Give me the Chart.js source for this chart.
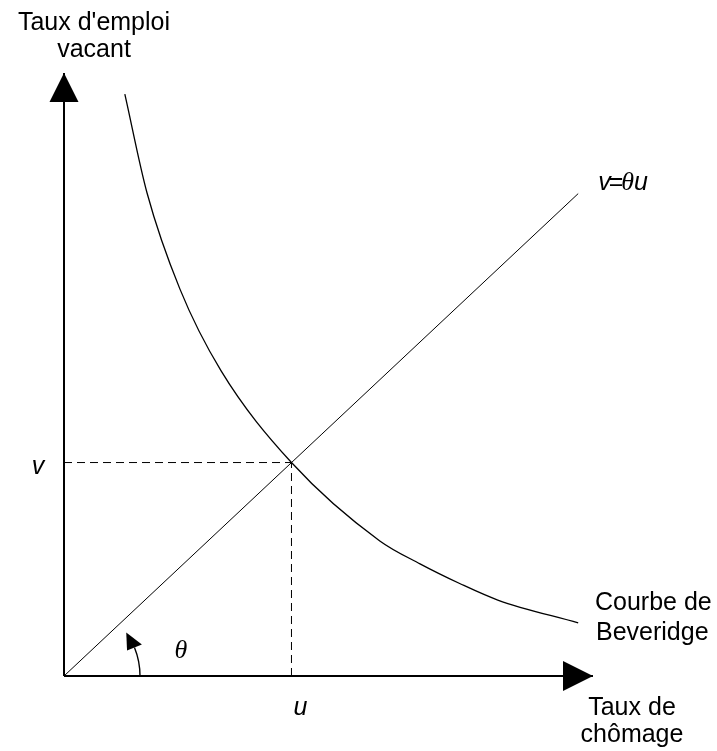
<!DOCTYPE html>
<html><head><meta charset="utf-8">
<script src="https://cdn.jsdelivr.net/npm/chart.js@4.4.0/dist/chart.umd.min.js"></script>
<style>html,body{margin:0;padding:0;background:#fff;} #wrap{width:717px;height:751px;}</style>
</head><body><div id="wrap"><canvas id="c" width="717" height="751"></canvas></div>
<script>
// ---- data (abstract units, axes run 0..10) ----
const axisMax = 10;
const curveU = [1.15, 1.57, 2.19, 2.97, 4.30, 5.97, 6.73, 7.49, 8.20, 9.72];
const curveV = [9.65, 8.01, 6.42, 5.06, 3.54, 2.24, 1.86, 1.53, 1.26, 0.88];
const lineU = [0, 9.72];
const lineV = [0, 8.00];
const uStar = 4.30;
const vStar = 3.54;
const yAxisTitle = ["Taux d'emploi", "vacant"];
const xAxisTitle = ["Taux de", "chômage"];
const curveLabel = ["Courbe de", "Beveridge"];
const uLabel = "u";
const vLabel = "v";
const thetaLabel = "θ";

const pts = (xs, ys) => xs.map((x, i) => ({x: x, y: ys[i]}));
const SANS = '"Liberation Sans", Arial, sans-serif';
const SERIF = '"Liberation Serif", "Times New Roman", serif';

const ds = (data, extra) => Object.assign({
  data: data, showLine: true, borderColor: '#000', borderWidth: 1,
  pointRadius: 0, pointHoverRadius: 0, clip: false, fill: false
}, extra);

const deco = {
  id: 'deco',
  afterDatasetsDraw(chart) {
    const ctx = chart.ctx, xs = chart.scales.x, ys = chart.scales.y;
    const ox = xs.getPixelForValue(0), oy = ys.getPixelForValue(0);
    const xTip = xs.getPixelForValue(axisMax), yTip = ys.getPixelForValue(axisMax);
    ctx.save();
    ctx.fillStyle = '#000'; ctx.strokeStyle = '#000';
    // arrowheads
    ctx.beginPath();
    ctx.moveTo(ox, yTip); ctx.lineTo(ox - 14.5, yTip + 29); ctx.lineTo(ox + 14.5, yTip + 29); ctx.closePath(); ctx.fill();
    ctx.beginPath();
    ctx.moveTo(xTip, oy); ctx.lineTo(xTip - 30, oy - 15); ctx.lineTo(xTip - 30, oy + 15); ctx.closePath(); ctx.fill();
    // theta arc
    const r = 76, a1 = 22 * Math.PI / 180, a2 = 35 * Math.PI / 180;
    ctx.lineWidth = 1.4;
    ctx.beginPath(); ctx.arc(ox, oy, r, 0, -a1, true); ctx.stroke();
    const tx = ox + r * Math.cos(a2), ty = oy - r * Math.sin(a2);
    const bx = ox + r * Math.cos(a1), by = oy - r * Math.sin(a1);
    const rx = Math.cos(a1), ry = -Math.sin(a1);
    ctx.beginPath(); ctx.moveTo(tx, ty); ctx.lineTo(bx + 8 * rx, by + 8 * ry); ctx.lineTo(bx - 8 * rx, by - 8 * ry); ctx.closePath(); ctx.fill();
    // texts
    ctx.textBaseline = 'alphabetic';
    ctx.font = '25px ' + SANS; ctx.textAlign = 'center';
    ctx.fillText(yAxisTitle[0], ox + 30, yTip - 43);
    ctx.fillText(yAxisTitle[1], ox + 30, yTip - 16);
    ctx.fillText(xAxisTitle[0], xTip + 39, oy + 39);
    ctx.fillText(xAxisTitle[1], xTip + 39, oy + 66);
    ctx.textAlign = 'left';
    ctx.fillText(curveLabel[0], xTip + 2, oy - 66);
    ctx.fillText(curveLabel[1], xTip + 3, oy - 36);
    ctx.font = 'italic 25px ' + SANS; ctx.textAlign = 'center';
    ctx.fillText(vLabel, ox - 26, ys.getPixelForValue(vStar) + 11);
    ctx.fillText(uLabel, xs.getPixelForValue(uStar) + 9, oy + 39);
    ctx.font = 'italic 26px ' + SERIF;
    ctx.fillText(thetaLabel, ox + 117, oy - 18);
    // v=θu label
    const lx = xs.getPixelForValue(lineU[1]) + 20, ly = ys.getPixelForValue(lineV[1]) - 4;
    ctx.textAlign = 'left';
    const parts = [['v', 'italic 25px ' + SANS, 0], ['=', '25px ' + SANS, -2], ['θ', 'italic 26px ' + SERIF, -2], ['u', 'italic 25px ' + SANS, 0]];
    let cx = lx;
    for (const [t, f, adj] of parts) {
      ctx.font = f; cx += adj; ctx.fillText(t, cx, ly); cx += ctx.measureText(t).width;
    }
    ctx.restore();
  }
};

new Chart(document.getElementById('c'), {
  type: 'scatter',
  data: {
    datasets: [
      ds(pts([0, axisMax], [0, 0]), {borderWidth: 2}),
      ds(pts([0, 0], [0, axisMax]), {borderWidth: 2}),
      ds(pts([0, uStar], [vStar, vStar]), {borderDash: [8, 5]}),
      ds(pts([uStar, uStar], [0, vStar]), {borderDash: [8, 5]}),
      ds(pts(lineU, lineV), {borderWidth: 1}),
      ds(pts(curveU, curveV), {borderWidth: 1.3, cubicInterpolationMode: 'monotone'})
    ]
  },
  options: {
    responsive: false, animation: false, devicePixelRatio: 1,
    layout: {padding: {left: 64, right: 124, top: 73, bottom: 75}},
    plugins: {legend: {display: false}, tooltip: {enabled: false}},
    scales: {
      x: {type: 'linear', min: 0, max: axisMax, display: false},
      y: {type: 'linear', min: 0, max: axisMax, display: false}
    }
  },
  plugins: [deco]
});
</script></body></html>
